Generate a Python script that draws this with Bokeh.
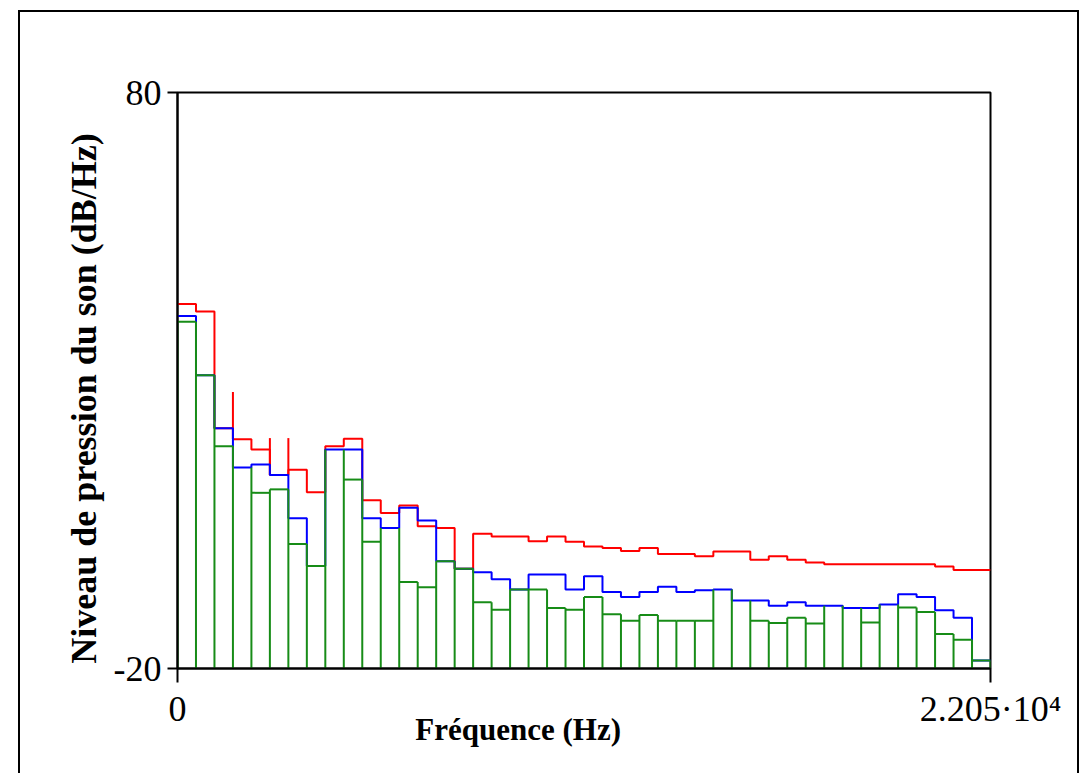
import numpy as np
from bokeh.plotting import figure
from bokeh.models import Range1d, FixedTicker
from bokeh.embed import file_html
from bokeh.resources import INLINE

# ---------------- data ----------------
F_MAX = 22050.0
N_BINS = 44

red_db = [43.3, 42.0, 21.7, 19.8, 18.0, 13.6, 14.5, 10.6, 18.6, 19.9,
          9.2, 7.0, 8.3, 4.7, 4.4, -2.7, 3.4, 2.9, 2.9, 2.1,
          2.9, 2.0, 1.2, 0.9, 0.4, 0.9, -0.1, -0.1, -0.5, 0.3,
          0.3, -1.1, -0.5, -1.1, -1.6, -1.9, -1.9, -1.9, -1.9, -1.9,
          -1.9, -2.3, -2.9, -2.9]

blue_db = [41.2, 30.9, 21.7, 14.9, 15.4, 13.6, 6.1, -2.2, 18.0, 18.0,
           6.1, 4.4, 7.9, 5.7, -1.4, -2.7, -3.3, -4.5, -6.3, -3.7,
           -3.7, -6.3, -4.0, -6.7, -7.6, -6.7, -5.8, -6.7, -6.4, -6.3,
           -8.2, -8.2, -9.1, -8.5, -9.1, -9.1, -9.5, -9.5, -8.9, -7.1,
           -7.6, -9.9, -11.2, -18.6]

nan = float("nan")
green_db = [40.2, 30.9, 18.6, nan, 10.5, 11.1, 1.6, -2.2, nan, 12.8,
            2.0, nan, -5.0, -5.9, -1.4, -2.7, -8.5, -9.8, -6.3, -6.3,
            -9.5, -9.8, -7.6, -10.6, -11.7, -10.7, -11.7, -11.7, -11.7, nan,
            nan, -11.7, -12.1, -11.2, -12.2, nan, nan, -12.0, nan, -9.4,
            -10.2, -14.0, -15.0, -18.6]

red_spike_edges = [3, 5, 6]
red_spike_tops = [28.0, 20.0, 20.0]

x_tick_values = [0, 22050]
x_tick_labels = ["0", "2.205\u00b710\u2074"]
y_tick_values = [-20, 80]
y_tick_labels = ["-20", "80"]

x_title = "Fréquence (Hz)"
y_title = "Niveau de pression du son (dB/Hz)"

Y_MIN, Y_MAX = -20.0, 80.0

# ---------------- layout constants ----------------
W, H = 1086, 773
FL, FR, FT, FB = 177, 990, 92, 668  # frame in pixels

RED = "#ff0000"
BLUE = "#0000ff"
GREEN = "#178c17"
LW = 2
FONT = "Liberation Serif"
NBSP = "\u00a0"

edges = np.linspace(0.0, F_MAX, N_BINS + 1)
red = np.array(red_db)
blue = np.array(blue_db)
green = np.array(green_db)

p = figure(width=W, height=H,
           x_range=Range1d(0, F_MAX), y_range=Range1d(Y_MIN, Y_MAX),
           output_backend="svg", toolbar_location=None,
           min_border_left=FL, min_border_right=W - FR,
           min_border_top=FT, min_border_bottom=H - FB)
p.xgrid.visible = False
p.ygrid.visible = False
p.background_fill_color = "white"
p.border_fill_color = None
p.outline_line_color = "black"
p.outline_line_width = 2

# outer frame of the picture (left, top and right edges)
p.styles = {
    "background": (
        "linear-gradient(#000,#000) 18px 10px / 2px 800px no-repeat, "
        "linear-gradient(#000,#000) 18px 10px / 1061px 2px no-repeat, "
        "linear-gradient(#000,#000) 1077px 10px / 2px 800px no-repeat, #ffffff"
    )
}

# red step line
p.step(edges, np.append(red, red[-1]), mode="after", line_color=RED, line_width=LW)
# red spikes
se = np.array(red_spike_edges)
sb = np.minimum(red[se - 1], red[se])
p.segment(edges[se], np.array(red_spike_tops), edges[se], sb, line_color=RED, line_width=LW)

# blue step line
p.step(edges, np.append(blue, blue[-1]), mode="after", line_color=BLUE, line_width=LW)

# green bars: tops + verticals down to baseline
ok = ~np.isnan(green)
p.segment(edges[:-1][ok], green[ok], edges[1:][ok], green[ok], line_color=GREEN, line_width=LW)
gfill = np.where(ok, green, blue)
vt = []
for k in range(N_BINS + 1):
    c = []
    if k - 1 >= 0:
        c.append(gfill[k - 1])
    if k < N_BINS:
        c.append(gfill[k])
    vt.append(max(c))
vt = np.array(vt)
p.segment(edges, vt, edges, np.full_like(vt, Y_MIN), line_color=GREEN, line_width=LW)

# axes
for ax, vals, labs, tout in ((p.xaxis, x_tick_values, x_tick_labels, 14),
                             (p.yaxis, y_tick_values, y_tick_labels, 10)):
    ax.ticker = FixedTicker(ticks=vals)
    ax.major_label_overrides = {v: l for v, l in zip(vals, labs)}
    ax.minor_tick_line_color = None
    ax.major_tick_in = 0
    ax.major_tick_out = tout
    ax.major_tick_line_width = 2
    ax.axis_line_width = 2
    ax.axis_line_color = "black"
    ax.major_label_text_font = FONT
    ax.major_label_text_font_size = "36px"
    ax.major_label_text_color = "black"
    ax.major_label_standoff = 6
    ax.axis_label_text_font = FONT
    ax.axis_label_text_font_style = "bold"
    ax.axis_label_text_color = "black"

p.xaxis.axis_label = x_title + NBSP * 17
p.xaxis.axis_label_text_font_size = "31px"
p.xaxis.axis_label_standoff = -20
p.yaxis.axis_label = y_title + NBSP * 4
p.yaxis.axis_label_text_font_size = "36px"
p.yaxis.axis_label_standoff = 7

open("out.html", "w").write(file_html(p, INLINE))
